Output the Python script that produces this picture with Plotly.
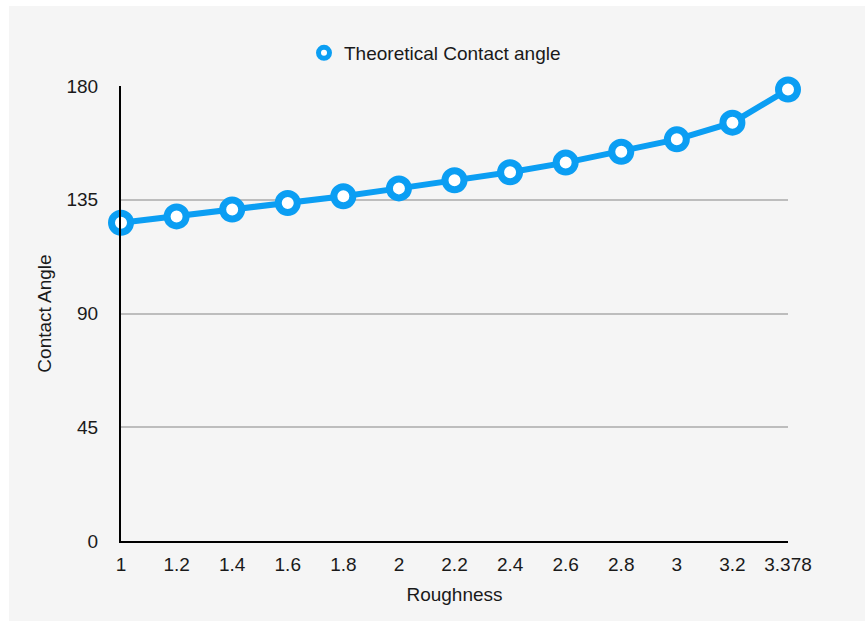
import plotly.graph_objects as go

roughness = ["1", "1.2", "1.4", "1.6", "1.8", "2", "2.2", "2.4", "2.6", "2.8", "3", "3.2", "3.378"]
contact_angle = [125.9, 128.4, 131.1, 133.7, 136.4, 139.5, 142.7, 145.9, 149.7, 154.0, 158.9, 165.5, 178.6]
y_ticks = [0, 45, 90, 135, 180]
series_name = "Theoretical Contact angle"

BLUE = "#0b9ef3"
FONT = "Liberation Sans, Arial, Helvetica, sans-serif"
FS = 19

fig = go.Figure()
fig.add_trace(go.Scatter(
    x=roughness, y=contact_angle, mode="lines+markers",
    line=dict(color=BLUE, width=6),
    marker=dict(symbol="circle", size=19, color="white", line=dict(color=BLUE, width=7)),
    cliponaxis=False, showlegend=False, name=series_name,
))
# legend-only entry (marker without line, as in the reference)
fig.add_trace(go.Scatter(
    x=[None], y=[None], mode="markers", name=series_name,
    marker=dict(symbol="circle", size=11, color="white", line=dict(color=BLUE, width=5)),
    showlegend=True,
))

L, R, T, B = 121, 77, 86, 81
W, H = 865, 622
pw, ph = W - L - R, H - T - B

def px_x(p):
    return (p - L) / pw

def px_y(p):
    return (H - B - p) / ph

fig.add_shape(type="rect", xref="paper", yref="paper",
              x0=px_x(9), x1=px_x(865), y0=px_y(621), y1=px_y(6),
              fillcolor="#f5f5f5", line=dict(width=0), layer="below")

fig.update_layout(
    width=W, height=H,
    margin=dict(l=L, r=R, t=T, b=B, pad=0),
    paper_bgcolor="white", plot_bgcolor="rgba(0,0,0,0)",
    font=dict(family=FONT, size=FS, color="#1a1a1a"),
    legend=dict(orientation="h", x=px_x(304), y=px_y(53), xanchor="left", yanchor="middle",
                bgcolor="rgba(0,0,0,0)", font=dict(size=FS)),
    xaxis=dict(type="category", range=[0, len(roughness) - 1], showgrid=False,
               showline=True, linecolor="black", linewidth=2, ticks="",
               ticklabelstandoff=5, zeroline=False,
               title=dict(text="Roughness", standoff=14, font=dict(size=FS))),
    yaxis=dict(range=[0, 180], tickvals=y_ticks, showgrid=True, gridcolor="#bdbdbd",
               gridwidth=1.5, showline=True, linecolor="black", linewidth=2, ticks="",
               ticklabelstandoff=17, zeroline=False,
               title=dict(text="Contact Angle", standoff=10, font=dict(size=FS))),
)

fig.write_html("out.html")
